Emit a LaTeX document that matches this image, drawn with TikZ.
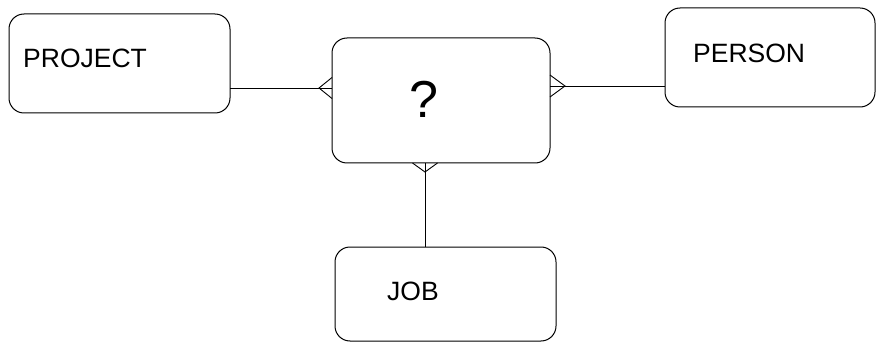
\documentclass[tikz,border=0pt]{standalone}
\usepackage{fontspec}
\setmainfont{Liberation Sans}
\begin{document}
\begin{tikzpicture}[x=1pt,y=-1pt,
  ent/.style={draw,rounded corners=15pt,inner sep=0pt,outer sep=0pt,line width=1pt},
  lab/.style={inner sep=0pt,anchor=base west,font=\fontsize{26.5}{30}\selectfont},
  conn/.style={line width=0.9pt}]
\useasboundingbox (0,0) rectangle (876,342);
\node[ent,minimum width=221pt,minimum height=99pt] (project) at (119.5,63.5) {};
\node[ent,minimum width=218pt,minimum height=125pt] (center) at (441,100.5) {};
\node[ent,minimum width=210pt,minimum height=99pt] (person) at (770,57.5) {};
\node[ent,minimum width=221pt,minimum height=94pt] (job) at (445.5,294) {};
\node[lab] (tproject) at (23,68) {PROJECT};
\node[lab] (tperson) at (693,63) {PERSON};
\node[lab] (tjob) at (387,300) {JOB};
\node[inner sep=0pt,anchor=base,font=\fontsize{52}{60}\selectfont] (tq) at (424,118) {?};
% connectors
\coordinate (pa) at (319,88);
\coordinate (qa) at (565,86);
\coordinate (ja) at (425,172);
\draw[conn] (project.east |- pa) -- (center.west |- pa);
\draw[conn] ([yshift=-10.5pt]center.west |- pa) -- (pa) -- ([yshift=10.5pt]center.west |- pa);
\draw[conn] (person.west |- qa) -- (center.east |- qa);
\draw[conn] ([yshift=-11pt]center.east |- qa) -- (qa) -- ([yshift=11pt]center.east |- qa);
\draw[conn] (job.north -| ja) -- (center.south -| ja);
\draw[conn] ([xshift=-12.5pt]center.south -| ja) -- (ja) -- ([xshift=12.5pt]center.south -| ja);
\end{tikzpicture}
\end{document}
